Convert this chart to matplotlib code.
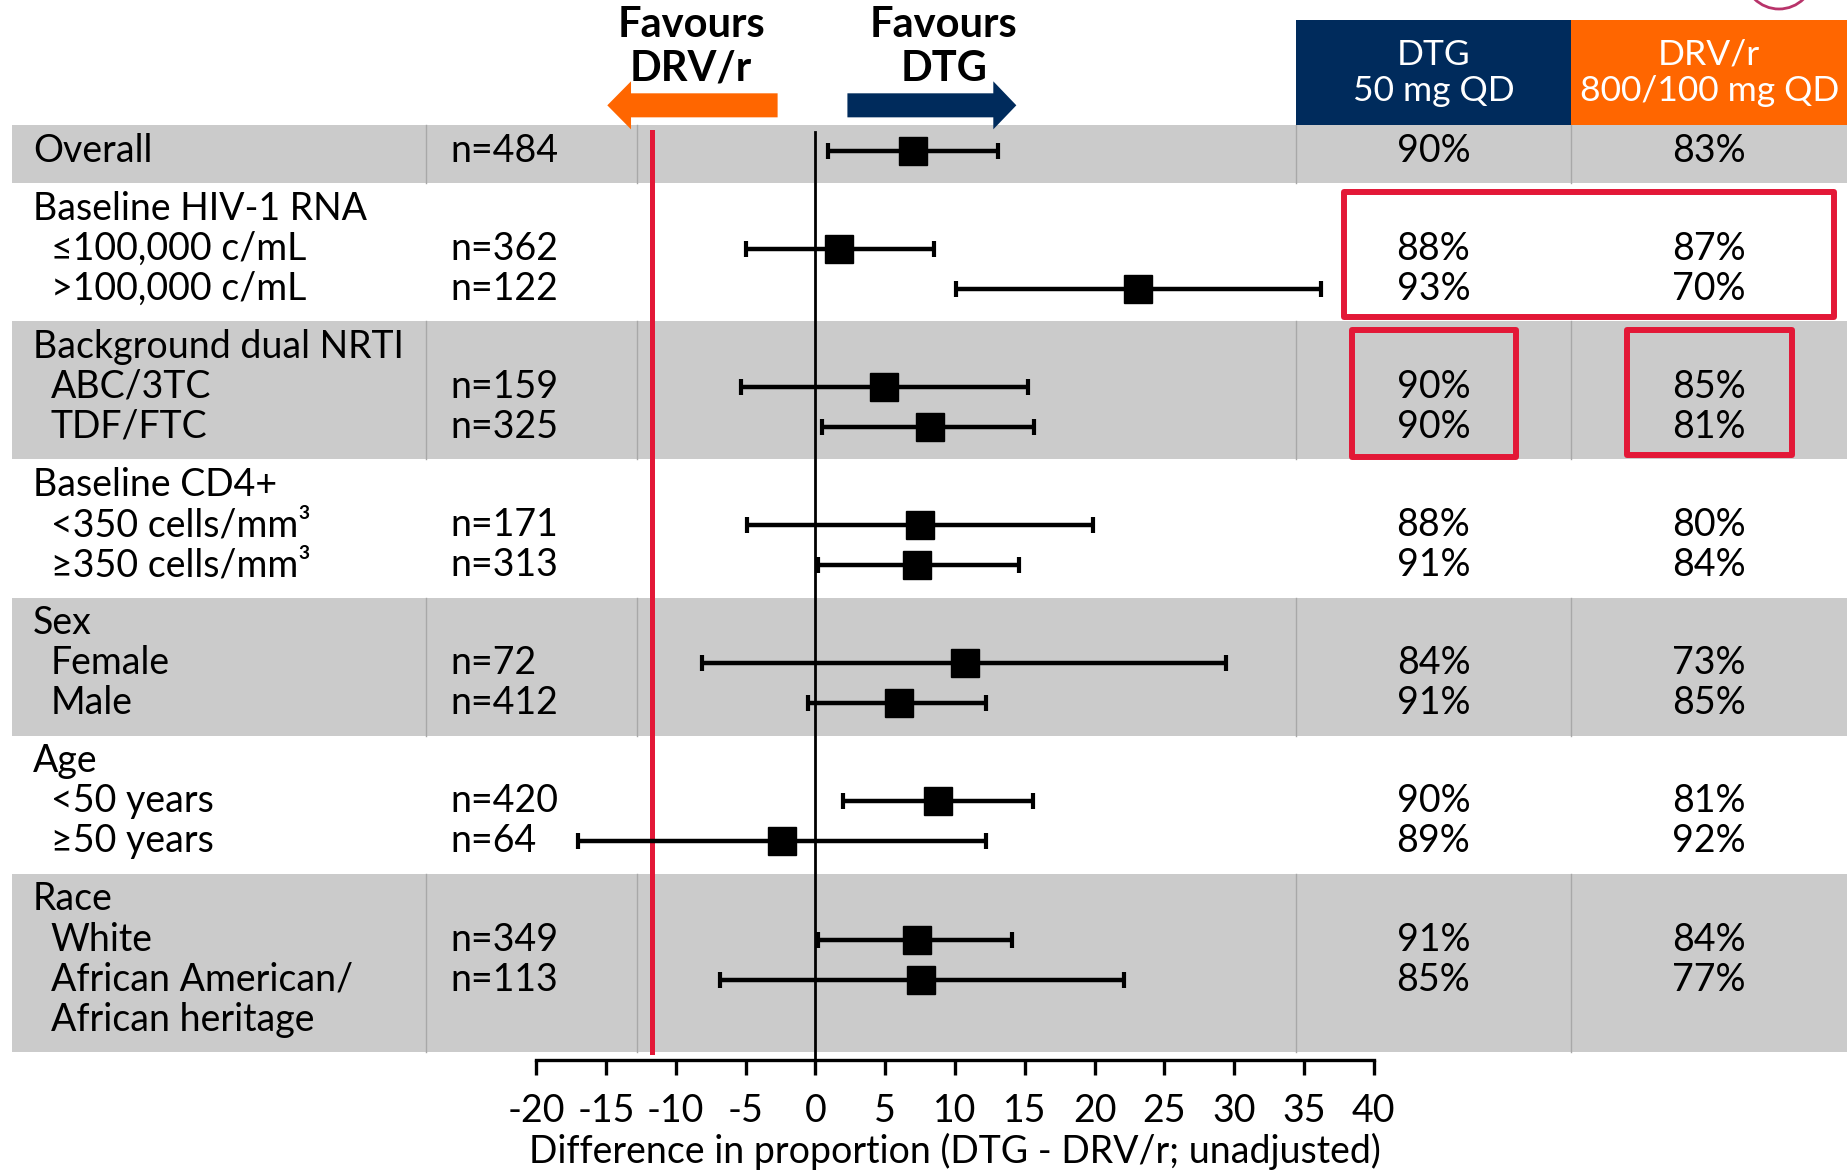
import numpy as np
import matplotlib
matplotlib.use("Agg")
import matplotlib.pyplot as plt
import matplotlib.transforms as mtransforms
from matplotlib.patches import Rectangle, FancyArrow, Circle

plt.rcParams['font.family'] = ['Lato', 'DejaVu Sans']
plt.rcParams['axes.unicode_minus'] = False

# data
group_names = ["Overall", "Baseline HIV-1 RNA", "Background dual NRTI",
               "Baseline CD4+", "Sex", "Age", "Race"]
group_lines = [1, 3, 3, 3, 3, 3, 4]
row_labels = ["Overall", "≤100,000 c/mL", ">100,000 c/mL", "ABC/3TC", "TDF/FTC",
              "<350 cells/mm³", "≥350 cells/mm³", "Female", "Male",
              "<50 years", "≥50 years", "White", "African American/\nAfrican heritage"]
row_group = [0, 1, 1, 2, 2, 3, 3, 4, 4, 5, 5, 6, 6]
n_vals = [484, 362, 122, 159, 325, 171, 313, 72, 412, 420, 64, 349, 113]
est = np.array([7.0, 1.7, 23.1, 4.9, 8.2, 7.5, 7.3, 10.7, 6.0, 8.8, -2.4, 7.3, 7.6])
lo = np.array([0.9, -5.0, 10.1, -5.3, 0.5, -4.9, 0.2, -8.1, -0.5, 2.0, -17.0, 0.2, -6.8])
hi = np.array([13.1, 8.5, 36.2, 15.2, 15.7, 19.9, 14.6, 29.4, 12.2, 15.6, 12.2, 14.1, 22.1])
dtg_pct = [90, 88, 93, 90, 90, 88, 91, 84, 91, 90, 89, 91, 85]
drv_pct = [83, 87, 70, 85, 81, 80, 84, 73, 85, 81, 92, 84, 77]
margin = -11.7
xticks = np.arange(-20, 41, 5)

NAVY = '#002b5c'
ORANGE = '#ff6600'
GREY = '#cbcbcb'
RED = '#e31837'
FS = 27

fig = plt.figure(figsize=(18.47, 11.71), dpi=100)
ax = fig.add_axes([0, 0, 1, 1])
ax.set_xlim(-58.4, 73.9)
ax.set_ylim(26.12, -3.12)
trans = mtransforms.blended_transform_factory(ax.transAxes, ax.transData)

# band layout (y in text-line units, downwards)
pad = 0.45
band_top = np.concatenate([[0], np.cumsum(np.array(group_lines) + pad)])
col_div = [0.2309, 0.345, 0.7015, 0.8508]
x_grp, x_sub, x_n = 0.0179, 0.0274, 0.2436
x_dtg, x_drv = 0.7761, 0.9254

for g, name in enumerate(group_names):
    top, bot = band_top[g], band_top[g + 1]
    if g % 2 == 0:
        ax.axhspan(top, bot, xmin=0.0064, xmax=1, color=GREY, lw=0, zorder=0)
        for xd in col_div:
            ax.plot([xd, xd], [top, bot], transform=trans, color='#a8a8a8', lw=1, zorder=1)
    if g > 0:
        ax.text(x_grp, top + 0.64, name, transform=trans, fontsize=FS, va='center', ha='left')

row_y = []
counts = {}
for i, g in enumerate(row_group):
    k = counts.get(g, 0)
    counts[g] = k + 1
    offs = k if g == 0 else k + 1
    row_y.append(band_top[g] + 0.64 + offs)
row_y = np.array(row_y)

for i, lab in enumerate(row_labels):
    xl = x_grp if row_group[i] == 0 else x_sub
    for j, part in enumerate(lab.split('\n')):
        ax.text(xl, row_y[i] + j, part, transform=trans, fontsize=FS, va='center', ha='left')
    ax.text(x_n, row_y[i], f"n={n_vals[i]}", transform=trans, fontsize=FS, va='center', ha='left')
    ax.text(x_dtg, row_y[i], f"{dtg_pct[i]}%", transform=trans, fontsize=FS, va='center', ha='center')
    ax.text(x_drv, row_y[i], f"{drv_pct[i]}%", transform=trans, fontsize=FS, va='center', ha='center')

# reference lines
axis_y = 23.35
ax.plot([margin, margin], [0.18, band_top[-1]], color=RED, lw=3.6, zorder=2)
ax.plot([0, 0], [0.18, axis_y], color='black', lw=2, zorder=2)

ax.errorbar(est, row_y, xerr=[est - lo, hi - est], fmt='s', color='black',
            ms=20, capsize=6, capthick=3, elinewidth=3.2, zorder=3)

# header boxes
ax.add_patch(Rectangle((0.7015, -2.62), 0.1493, 2.62, transform=trans, color=NAVY, lw=0))
ax.add_patch(Rectangle((0.8508, -2.62), 0.1492, 2.62, transform=trans, color=ORANGE, lw=0))
ax.text(x_dtg, -1.3, "DTG\n50 mg QD", transform=trans, fontsize=25.5, color='white',
        ha='center', va='center', linespacing=1.15)
ax.text(x_drv, -1.3, "DRV/r\n800/100 mg QD", transform=trans, fontsize=25.5, color='white',
        ha='center', va='center', linespacing=1.15)

# favours arrows
ax.add_patch(FancyArrow(-2.7, -0.49, -12.2, 0, width=0.6, head_width=1.2,
                        head_length=1.7, length_includes_head=True, color=ORANGE, lw=0))
ax.add_patch(FancyArrow(2.3, -0.49, 12.1, 0, width=0.6, head_width=1.2,
                        head_length=1.65, length_includes_head=True, color=NAVY, lw=0))
ax.text(-8.9, -1.95, "Favours\nDRV/r", fontsize=30, fontweight='bold', ha='center',
        va='center', linespacing=1.2)
ax.text(9.2, -1.95, "Favours\nDTG", fontsize=30, fontweight='bold', ha='center',
        va='center', linespacing=1.2)

# highlight boxes
for (x0, x1, y0, y1) in [(0.7277, 0.993, 1.68, 4.79), (0.7321, 0.8208, 5.12, 8.29),
                         (0.8807, 0.970, 5.12, 8.24)]:
    ax.add_patch(Rectangle((x0, y0), x1 - x0, y1 - y0, transform=trans, fill=False,
                           ec=RED, lw=4.3, joinstyle='round', zorder=4))

# logo fragment
fig.add_artist(Circle((17.79, 11.97), 0.35, transform=fig.dpi_scale_trans, fill=False,
                      ec='#b8336a', lw=2))

# x axis
for s in ['left', 'right', 'top']:
    ax.spines[s].set_visible(False)
ax.spines['bottom'].set_position(('data', axis_y))
ax.spines['bottom'].set_bounds(-20, 40)
ax.spines['bottom'].set_linewidth(2.4)
ax.set_xticks(xticks)
ax.set_xticklabels([str(v) for v in xticks])
ax.tick_params(axis='x', direction='out', length=11, width=2.4, labelsize=FS, pad=13)
ax.set_yticks([])
ax.text(10, 25.62, "Difference in proportion (DTG - DRV/r; unadjusted)", fontsize=FS,
        ha='center', va='center')

fig.savefig("out.png", dpi=100)
